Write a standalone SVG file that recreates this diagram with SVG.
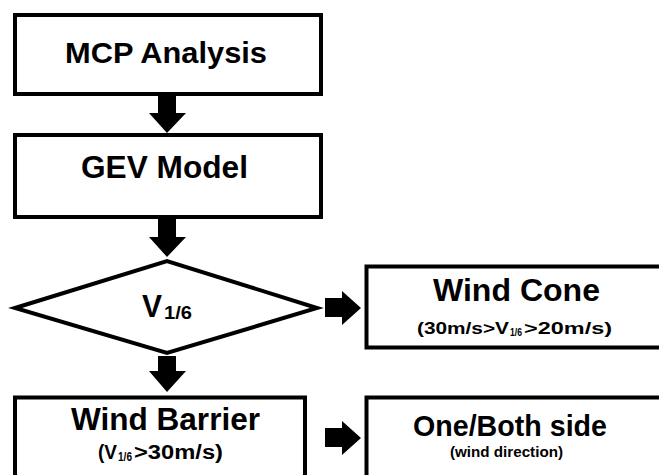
<svg xmlns="http://www.w3.org/2000/svg" width="659" height="475" viewBox="0 0 659 475">
  <style>
    .box { fill: #ffffff; stroke: #000000; stroke-width: 4; }
    .arrow { fill: #000000; }
    .t { font-family: "Liberation Sans", Arial, sans-serif; font-weight: bold; fill: #000000; }
  </style>
  <rect width="659" height="475" fill="#ffffff"/>

  <!-- connectors: block arrows -->
  <g id="connectors">
    <polygon class="arrow" points="158,96 176,96 176,113 186,113 167,133 149,113 158,113"/>
    <polygon class="arrow" points="158,218 176,218 176,237 186,237 167,257 149,237 158,237"/>
    <polygon class="arrow" points="158,356 176,356 176,371 186,371 167,392 149,371 158,371"/>
    <polygon class="arrow" points="325,298 342,298 342,291 361,308 342,325 342,317 325,317"/>
    <polygon class="arrow" points="325,428 342,428 342,421 361,438 342,455 342,447 325,447"/>
  </g>

  <g id="mcp-analysis">
    <rect class="box" x="15" y="15" width="306" height="79"/>
    <text class="t" x="65" y="63" font-size="30" textLength="202" lengthAdjust="spacingAndGlyphs">MCP Analysis</text>
  </g>

  <g id="gev-model">
    <rect class="box" x="15" y="135" width="306" height="82"/>
    <text class="t" x="81" y="178" font-size="31" textLength="167" lengthAdjust="spacingAndGlyphs">GEV Model</text>
  </g>

  <g id="v16-decision">
    <polygon class="box" points="15,308 167,261 317,308 167,353"/>
    <text class="t" x="142" y="317" font-size="31" textLength="20" lengthAdjust="spacingAndGlyphs">V</text>
    <text class="t" x="164" y="319" font-size="19" textLength="28" lengthAdjust="spacingAndGlyphs">1/6</text>
  </g>

  <g id="wind-cone">
    <rect class="box" x="366.5" y="266.5" width="400" height="81"/>
    <text class="t" x="433" y="301" font-size="31" textLength="167" lengthAdjust="spacingAndGlyphs">Wind Cone</text>
    <text class="t" x="417" y="334" font-size="17" textLength="92" lengthAdjust="spacingAndGlyphs">(30m/s&gt;V</text>
    <text class="t" x="510" y="336" font-size="10" textLength="12" lengthAdjust="spacingAndGlyphs">1/6</text>
    <text class="t" x="524" y="334" font-size="17" textLength="88" lengthAdjust="spacingAndGlyphs">&gt;20m/s)</text>
  </g>

  <g id="wind-barrier">
    <rect class="box" x="15" y="397.5" width="290" height="120"/>
    <text class="t" x="71" y="430" font-size="31" textLength="189" lengthAdjust="spacingAndGlyphs">Wind Barrier</text>
    <text class="t" x="98" y="459" font-size="20" textLength="19" lengthAdjust="spacingAndGlyphs">(V</text>
    <text class="t" x="118" y="461" font-size="12" textLength="14" lengthAdjust="spacingAndGlyphs">1/6</text>
    <text class="t" x="134" y="459" font-size="20" textLength="89" lengthAdjust="spacingAndGlyphs">&gt;30m/s)</text>
  </g>

  <g id="one-both-side">
    <rect class="box" x="366.5" y="397.5" width="400" height="120"/>
    <text class="t" x="413" y="436" font-size="30" textLength="194" lengthAdjust="spacingAndGlyphs">One/Both side</text>
    <text class="t" x="450" y="457" font-size="15" textLength="113" lengthAdjust="spacingAndGlyphs">(wind direction)</text>
  </g>
</svg>
